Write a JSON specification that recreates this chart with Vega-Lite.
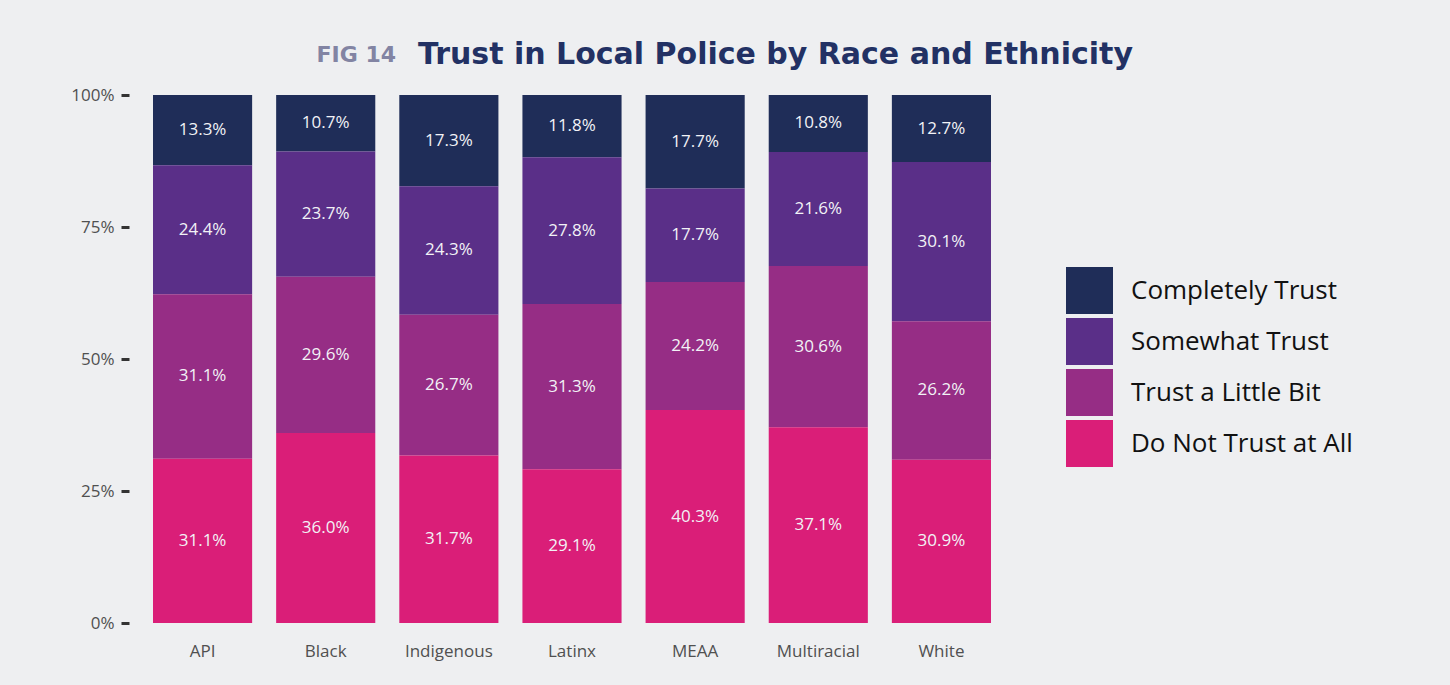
{
  "$schema": "https://vega.github.io/schema/vega-lite/v6.json",
  "autosize": "none",
  "width": 862,
  "height": 528,
  "padding": {"left": 141, "top": 95, "right": 447, "bottom": 62},
  "background": "#eeeff1",
  "config": {"view": {"stroke": null}, "font": "Open Sans"},
  "title": {
    "text": "Trust in Local Police by Race and Ethnicity",
    "anchor": "start",
    "frame": "group",
    "dx": 277,
    "offset": -27,
    "font": "DejaVu Sans",
    "fontSize": 30,
    "fontWeight": "bold",
    "color": "#223164"
  },
  "data": {
    "values": [
      {"group": "API", "level": "Completely Trust", "order": 4, "value": 13.3},
      {"group": "API", "level": "Somewhat Trust", "order": 3, "value": 24.4},
      {"group": "API", "level": "Trust a Little Bit", "order": 2, "value": 31.1},
      {"group": "API", "level": "Do Not Trust at All", "order": 1, "value": 31.1},
      {"group": "Black", "level": "Completely Trust", "order": 4, "value": 10.7},
      {"group": "Black", "level": "Somewhat Trust", "order": 3, "value": 23.7},
      {"group": "Black", "level": "Trust a Little Bit", "order": 2, "value": 29.6},
      {"group": "Black", "level": "Do Not Trust at All", "order": 1, "value": 36.0},
      {"group": "Indigenous", "level": "Completely Trust", "order": 4, "value": 17.3},
      {"group": "Indigenous", "level": "Somewhat Trust", "order": 3, "value": 24.3},
      {"group": "Indigenous", "level": "Trust a Little Bit", "order": 2, "value": 26.7},
      {"group": "Indigenous", "level": "Do Not Trust at All", "order": 1, "value": 31.7},
      {"group": "Latinx", "level": "Completely Trust", "order": 4, "value": 11.8},
      {"group": "Latinx", "level": "Somewhat Trust", "order": 3, "value": 27.8},
      {"group": "Latinx", "level": "Trust a Little Bit", "order": 2, "value": 31.3},
      {"group": "Latinx", "level": "Do Not Trust at All", "order": 1, "value": 29.1},
      {"group": "MEAA", "level": "Completely Trust", "order": 4, "value": 17.7},
      {"group": "MEAA", "level": "Somewhat Trust", "order": 3, "value": 17.7},
      {"group": "MEAA", "level": "Trust a Little Bit", "order": 2, "value": 24.2},
      {"group": "MEAA", "level": "Do Not Trust at All", "order": 1, "value": 40.3},
      {"group": "Multiracial", "level": "Completely Trust", "order": 4, "value": 10.8},
      {"group": "Multiracial", "level": "Somewhat Trust", "order": 3, "value": 21.6},
      {"group": "Multiracial", "level": "Trust a Little Bit", "order": 2, "value": 30.6},
      {"group": "Multiracial", "level": "Do Not Trust at All", "order": 1, "value": 37.1},
      {"group": "White", "level": "Completely Trust", "order": 4, "value": 12.7},
      {"group": "White", "level": "Somewhat Trust", "order": 3, "value": 30.1},
      {"group": "White", "level": "Trust a Little Bit", "order": 2, "value": 26.2},
      {"group": "White", "level": "Do Not Trust at All", "order": 1, "value": 30.9}
    ]
  },
  "encoding": {
    "x": {
      "field": "group",
      "type": "nominal",
      "sort": null,
      "scale": {"paddingInner": 0.195, "paddingOuter": 0.0975},
      "axis": {
        "title": null,
        "labelAngle": 0,
        "ticks": false,
        "domain": false,
        "labelPadding": 20,
        "labelFontSize": 17,
        "labelColor": "#505050",
        "labelFont": "Open Sans"
      }
    },
    "y": {
      "field": "value",
      "type": "quantitative",
      "stack": "normalize",
      "scale": {"domain": [0, 1]},
      "axis": {
        "values": [0, 0.25, 0.5, 0.75, 1],
        "format": ".0%",
        "grid": false,
        "domain": false,
        "offset": 12,
        "tickSize": 8,
        "tickWidth": 3,
        "tickColor": "#333333",
        "labelPadding": 7,
        "labelFontSize": 17,
        "labelColor": "#505050",
        "labelFont": "Open Sans",
        "title": "FIG 14",
        "titleAngle": 0,
        "titleAlign": "left",
        "titleBaseline": "middle",
        "titleX": 187,
        "titleY": -41,
        "titleFont": "DejaVu Sans",
        "titleFontSize": 22,
        "titleFontWeight": "bold",
        "titleColor": "#8284a3"
      }
    },
    "order": {"field": "order", "type": "quantitative"}
  },
  "layer": [
    {
      "mark": {"type": "bar"},
      "encoding": {
        "color": {
          "field": "level",
          "type": "nominal",
          "scale": {
            "domain": ["Completely Trust", "Somewhat Trust", "Trust a Little Bit", "Do Not Trust at All"],
            "range": ["#1f2d58", "#5a2f88", "#962d85", "#da1e78"]
          },
          "legend": {
            "title": null,
            "orient": "none",
            "legendX": 925,
            "legendY": 172,
            "padding": 0,
            "symbolType": "square",
            "symbolSize": 2209,
            "symbolStrokeWidth": 0,
            "symbolOpacity": 1,
            "rowPadding": 4,
            "labelOffset": 18,
            "labelFontSize": 26,
            "labelColor": "#111111",
            "labelFont": "Open Sans",
            "labelLimit": 400
          }
        }
      }
    },
    {
      "mark": {
        "type": "text",
        "fontSize": 17,
        "color": "#f2f2f6",
        "font": "Open Sans",
        "text": {"expr": "format(datum.value, '.1f') + '%'"}
      },
      "encoding": {
        "y": {"field": "value", "type": "quantitative", "stack": "normalize", "bandPosition": 0.5}
      }
    }
  ]
}
